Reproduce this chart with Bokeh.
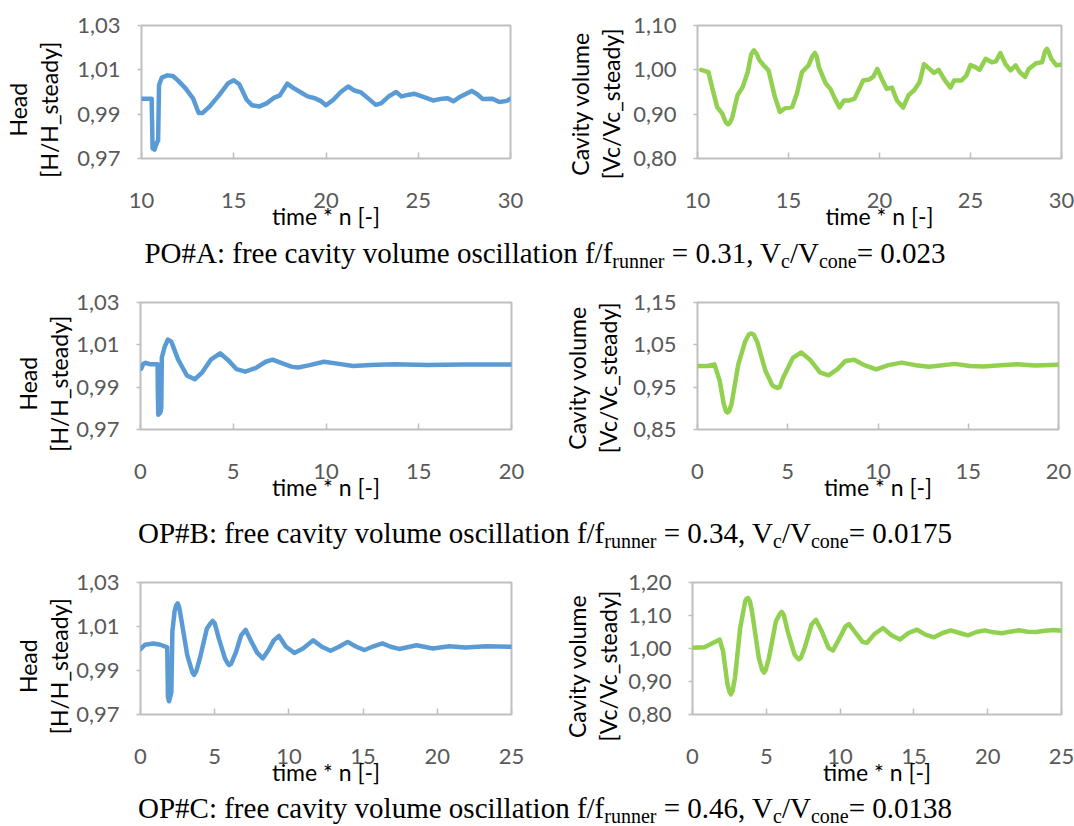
from bokeh.plotting import figure
from bokeh.layouts import column, row
from bokeh.models import Range1d, FixedTicker, CustomJSTickFormatter, Div
from bokeh.embed import file_html
from bokeh.resources import INLINE

# ---------------- data ----------------
# PO#A head
t_a_head = [10.0, 10.55, 10.6, 10.7, 10.85, 10.9, 10.95, 11.1, 11.4, 11.7, 12.0, 12.4, 12.8, 13.1, 13.3,
            13.7, 14.2, 14.7, 15.0, 15.3, 15.7, 16.0, 16.4, 16.8, 17.2, 17.5, 17.9, 18.2, 18.6, 19.0,
            19.4, 19.7, 20.0, 20.4, 20.8, 21.2, 21.5, 21.9, 22.3, 22.7, 23.0, 23.4, 23.8, 24.1, 24.5,
            24.8, 25.2, 25.8, 26.3, 26.6, 26.9, 27.3, 27.9, 28.2, 28.5, 29.0, 29.4, 29.8, 30.0]
head_a = [0.997, 0.997, 0.9745, 0.9740, 0.9775, 0.978, 1.003, 1.0065, 1.0075, 1.0072, 1.005, 1.0015,
          0.997, 0.9905, 0.9905, 0.9935, 0.9985, 1.004, 1.0053, 1.0035, 0.9965, 0.994, 0.9935, 0.995,
          0.9975, 0.9985, 1.0038, 1.002, 1.000, 0.998, 0.9972, 0.996, 0.994, 0.9965, 1.000, 1.0025,
          1.0008, 0.9998, 0.997, 0.9942, 0.995, 0.998, 1.000, 0.998, 0.9988, 0.9992, 0.998, 0.9962,
          0.997, 0.9972, 0.9958, 0.998, 1.0005, 0.999, 0.9968, 0.997, 0.9955, 0.996, 0.997]

# PO#A cavity volume
t_a_cav = [10.2, 10.6, 10.8, 11.08, 11.36, 11.55, 11.68, 11.8, 11.92, 12.2, 12.48, 12.76, 12.95, 13.1,
           13.25, 13.4, 13.7, 13.9, 14.25, 14.53, 14.8, 15.2, 15.46, 15.74, 16.1, 16.3, 16.45, 16.55,
           16.67, 17.05, 17.3, 17.55, 17.8, 18.05, 18.35, 18.63, 19.1, 19.42, 19.65, 19.88, 20.12,
           20.4, 20.68, 20.96, 21.3, 21.6, 21.9, 22.2, 22.45, 22.75, 23.0, 23.25, 23.6, 23.9, 24.1,
           24.5, 24.77, 25.0, 25.27, 25.5, 25.83, 26.17, 26.4, 26.64, 26.92, 27.2, 27.48, 27.7, 28.0,
           28.2, 28.6, 28.93, 29.1, 29.2, 29.3, 29.44, 29.72, 30.0]
cav_a = [1.000, 0.995, 0.961, 0.916, 0.901, 0.882, 0.877, 0.882, 0.894, 0.943, 0.961, 0.995, 1.035,
         1.044, 1.036, 1.022, 1.007, 0.999, 0.939, 0.905, 0.913, 0.916, 0.946, 0.995, 1.010, 1.030,
         1.038, 1.030, 1.006, 0.969, 0.957, 0.935, 0.915, 0.931, 0.931, 0.935, 0.976, 0.978, 0.984,
         1.002, 0.980, 0.957, 0.960, 0.931, 0.915, 0.943, 0.954, 0.972, 1.013, 1.002, 0.993, 1.000,
         0.976, 0.960, 0.976, 0.976, 0.987, 1.011, 1.006, 1.000, 1.025, 1.017, 1.019, 1.038, 1.013,
         0.999, 1.010, 0.995, 0.984, 1.002, 1.015, 1.017, 1.042, 1.047, 1.040, 1.025, 1.010, 1.012]

# OP#B head
t_b_head = [0.04, 0.15, 0.28, 0.55, 0.92, 0.94, 0.96, 1.07, 1.12, 1.15, 1.3, 1.48, 1.66, 2.03, 2.5,
            2.92, 3.33, 3.79, 4.29, 4.7, 5.18, 5.64, 6.2, 6.75, 7.12, 7.58, 8.13, 8.5, 9.06, 9.89,
            10.7, 11.46, 12.4, 13.7, 15.5, 17.4, 20.0]
head_b = [0.9987, 1.001, 1.0015, 1.0008, 1.0008, 0.985, 0.977, 0.978, 0.980, 1.004, 1.009, 1.0125,
          1.0115, 1.003, 0.9955, 0.9937, 0.997, 1.003, 1.006, 1.003, 0.9985, 0.9973, 0.999, 1.002,
          1.003, 1.0015, 0.9997, 0.9993, 1.0003, 1.002, 1.001, 1.000, 1.0005, 1.0008, 1.0005,
          1.0007, 1.0007]

# OP#B cavity volume
t_b_cav = [0.0, 0.57, 0.94, 1.23, 1.45, 1.58, 1.66, 1.75, 1.89, 2.26, 2.64, 2.85, 2.98, 3.12, 3.3,
           3.77, 4.15, 4.32, 4.43, 4.55, 4.75, 5.28, 5.75, 6.23, 6.79, 7.26, 7.74, 8.2, 8.68, 9.25,
           9.9, 10.57, 11.3, 12.08, 12.83, 13.58, 14.25, 15.1, 15.85, 16.8, 17.7, 18.7, 20.0]
cav_b = [1.0, 1.0, 1.004, 0.965, 0.911, 0.893, 0.890, 0.893, 0.911, 1.004, 1.058, 1.075, 1.077,
         1.074, 1.058, 0.988, 0.954, 0.950, 0.948, 0.950, 0.973, 1.019, 1.032, 1.015, 0.985, 0.978,
         0.992, 1.012, 1.015, 1.002, 0.992, 1.002, 1.008, 1.002, 0.998, 1.002, 1.005, 1.000, 0.999,
         1.002, 1.004, 1.001, 1.003]

# OP#C head
t_c_head = [0.0, 0.3, 0.88, 1.34, 1.8, 1.85, 1.92, 2.08, 2.15, 2.3, 2.4, 2.5, 2.6, 2.73, 3.15, 3.5,
            3.61, 3.75, 4.0, 4.47, 4.72, 4.86, 5.0, 5.28, 5.69, 5.85, 5.97, 6.1, 6.44, 6.78, 7.08,
            7.48, 7.87, 8.24, 8.63, 8.98, 9.33, 9.8, 10.37, 10.95, 11.64, 12.22, 12.8, 13.38, 13.96,
            14.54, 15.1, 15.7, 16.3, 16.85, 17.43, 18.6, 19.7, 20.8, 21.9, 23.3, 25.0]
head_c = [0.9997, 1.0017, 1.0023, 1.0017, 1.0005, 0.978, 0.976, 0.980, 1.008, 1.017, 1.0195, 1.0205,
          1.019, 1.014, 0.997, 0.989, 0.988, 0.9895, 0.9955, 1.009, 1.0115, 1.0125, 1.0115, 1.0045,
          0.9955, 0.9935, 0.9925, 0.993, 0.9985, 1.006, 1.0085, 1.003, 0.998, 0.9955, 0.9993,
          1.0037, 1.0057, 1.0008, 0.998, 1.000, 1.0037, 1.0008, 0.999, 1.0008, 1.003, 1.0008,
          0.9993, 1.001, 1.0023, 1.0008, 0.9998, 1.0015, 1.000, 1.001, 1.0005, 1.001, 1.0008]

# OP#C cavity volume
t_c_cav = [0.0, 0.81, 1.38, 1.84, 2.07, 2.37, 2.5, 2.6, 2.72, 2.88, 3.23, 3.57, 3.65, 3.76, 3.88,
           4.03, 4.49, 4.72, 4.84, 4.96, 5.18, 5.65, 5.9, 6.04, 6.18, 6.45, 6.91, 7.08, 7.21, 7.34,
           7.6, 8.06, 8.36, 8.76, 9.22, 9.52, 9.91, 10.37, 10.6, 11.06, 11.52, 11.82, 12.33, 12.9,
           13.48, 14.06, 14.63, 15.21, 15.78, 16.36, 16.94, 17.5, 18.1, 18.66, 19.24, 19.8, 20.4,
           20.97, 21.5, 22.1, 22.7, 23.27, 23.85, 24.5, 25.0]
cav_c = [1.002, 1.004, 1.017, 1.027, 0.992, 0.891, 0.870, 0.861, 0.872, 0.912, 1.062, 1.143, 1.150,
         1.153, 1.145, 1.113, 0.972, 0.935, 0.927, 0.935, 0.972, 1.082, 1.104, 1.111, 1.102, 1.052,
         0.982, 0.972, 0.967, 0.972, 1.002, 1.072, 1.087, 1.052, 1.002, 0.994, 1.027, 1.067, 1.074,
         1.047, 1.020, 1.017, 1.044, 1.062, 1.040, 1.027, 1.047, 1.057, 1.042, 1.034, 1.047, 1.055,
         1.047, 1.040, 1.050, 1.055, 1.049, 1.046, 1.051, 1.055, 1.051, 1.050, 1.054, 1.056, 1.054]

x_ticks_a = [10, 15, 20, 25, 30]
x_ticks_b = [0, 5, 10, 15, 20]
x_ticks_c = [0, 5, 10, 15, 20, 25]
head_ticks = [0.97, 0.99, 1.01, 1.03]
cav_ticks_a = [0.80, 0.90, 1.00, 1.10]
cav_ticks_b = [0.85, 0.95, 1.05, 1.15]
cav_ticks_c = [0.80, 0.90, 1.00, 1.10, 1.20]

x_title = "time * n [-]"
head_title = "Head\n[H/H_steady]"
cav_title = "Cavity volume\n[Vc/Vc_steady]"

captions = [
    ("PO#A: free cavity volume oscillation f/f", "runner", " = 0.31, V", "c", "/V", "cone", "= 0.023"),
    ("OP#B: free cavity volume oscillation f/f", "runner", " = 0.34, V", "c", "/V", "cone", "= 0.0175"),
    ("OP#C: free cavity volume oscillation f/f", "runner", " = 0.46, V", "c", "/V", "cone", "= 0.0138"),
]

BLUE = "#5B9BD5"
GREEN = "#92D050"
FRAME = "#BFBFBF"
TICKLBL = "#595959"
FONT = "Lato"
NBSP = "\u00a0"


def panel(x, y, color, xr, yr, xticks, yticks, ytitle, width, height, bl, br, bt, bb,
          ytitle_standoff, ytitle_pad):
    p = figure(width=width, height=height, x_range=Range1d(*xr), y_range=Range1d(*yr),
               output_backend="svg", toolbar_location=None,
               min_border_left=bl, min_border_right=br, min_border_top=bt, min_border_bottom=bb)
    p.title.visible = False
    p.line(x, y, line_color=color, line_width=4.5, line_join="round", line_cap="round")
    p.xgrid.visible = False
    p.ygrid.visible = False
    p.outline_line_color = FRAME
    p.outline_line_width = 2
    p.background_fill_color = "white"
    p.border_fill_color = "white"

    xa = p.xaxis[0]
    xa.ticker = FixedTicker(ticks=xticks)
    xa.axis_line_color = None
    xa.major_tick_in = 6
    xa.major_tick_out = 0
    xa.major_tick_line_color = FRAME
    xa.major_tick_line_width = 1.5
    xa.minor_tick_line_color = None
    xa.major_label_text_font = FONT
    xa.major_label_text_font_size = "22px"
    xa.major_label_text_color = TICKLBL
    xa.major_label_standoff = 34
    xa.axis_label = x_title
    xa.axis_label_text_font = FONT
    xa.axis_label_text_font_size = "23px"
    xa.axis_label_text_font_style = "normal"
    xa.axis_label_text_color = "black"
    xa.axis_label_standoff = -9

    ya = p.yaxis[0]
    ya.ticker = FixedTicker(ticks=yticks)
    ya.formatter = CustomJSTickFormatter(code="return tick.toFixed(2).replace('.', ',');")
    ya.axis_line_color = None
    ya.major_tick_in = 0
    ya.major_tick_out = 4
    ya.major_tick_line_color = FRAME
    ya.major_tick_line_width = 1.5
    ya.minor_tick_line_color = None
    ya.major_label_text_font = FONT
    ya.major_label_text_font_size = "22px"
    ya.major_label_text_color = TICKLBL
    ya.major_label_standoff = 17
    # trailing no-break spaces sit the two-line title a little lower along the axis
    ya.axis_label = "\n".join(line + NBSP * ytitle_pad for line in ytitle.split("\n"))
    ya.axis_label_text_font = FONT
    ya.axis_label_text_font_size = "23px"
    ya.axis_label_text_font_style = "normal"
    ya.axis_label_text_color = "black"
    ya.axis_label_text_line_height = 1.12
    ya.axis_label_standoff = ytitle_standoff
    return p


def caption(parts, height, lh):
    a, s1, b, s2, c, s3, d = parts
    sub = '<span style="font-size:20px;position:relative;top:5px;">%s</span>'
    html = ('<div style="width:1074px;box-sizing:border-box;padding-left:16px;text-align:center;'
            'font-family:\'Liberation Serif\',\'Times New Roman\',serif;font-size:29px;'
            'line-height:%spx;color:#000;white-space:nowrap;">' % lh
            + a + sub % s1 + b + sub % s2 + c + sub % s3 + d + '</div>')
    return Div(text=html, width=1074, height=height, margin=0)


LW, RW = 548, 526

p1 = panel(t_a_head, head_a, BLUE, (10, 30), (0.97, 1.03), x_ticks_a, head_ticks, head_title,
           LW, 245, 137, 38, 23, 87, 11, 6)
p2 = panel(t_a_cav, cav_a, GREEN, (10, 30), (0.80, 1.10), x_ticks_a, cav_ticks_a, cav_title,
           RW, 245, 149, 13, 25, 86, 5, 4)
p3 = panel(t_b_head, head_b, BLUE, (0, 20), (0.97, 1.03), x_ticks_b, head_ticks, head_title,
           LW, 250, 140, 37, 28, 88, 0, 6)
p4 = panel(t_b_cav, cav_b, GREEN, (0, 20), (0.85, 1.15), x_ticks_b, cav_ticks_b, cav_title,
           RW, 250, 149, 16, 30, 93, 8, 4)
p5 = panel(t_c_head, head_c, BLUE, (0, 25), (0.97, 1.03), x_ticks_c, head_ticks, head_title,
           LW, 252, 140, 37, 29, 88, 0, 6)
p6 = panel(t_c_cav, cav_c, GREEN, (0, 25), (0.80, 1.20), x_ticks_c, cav_ticks_c, cav_title,
           RW, 252, 144, 13, 32, 88, 3, 6)

layout = column(
    row(p1, p2),
    caption(captions[0], 27, 16.5),
    row(p3, p4),
    caption(captions[1], 28, 22.5),
    row(p5, p6),
    caption(captions[2], 24, 12.5),
)

open("out.html", "w").write(file_html(layout, INLINE))
